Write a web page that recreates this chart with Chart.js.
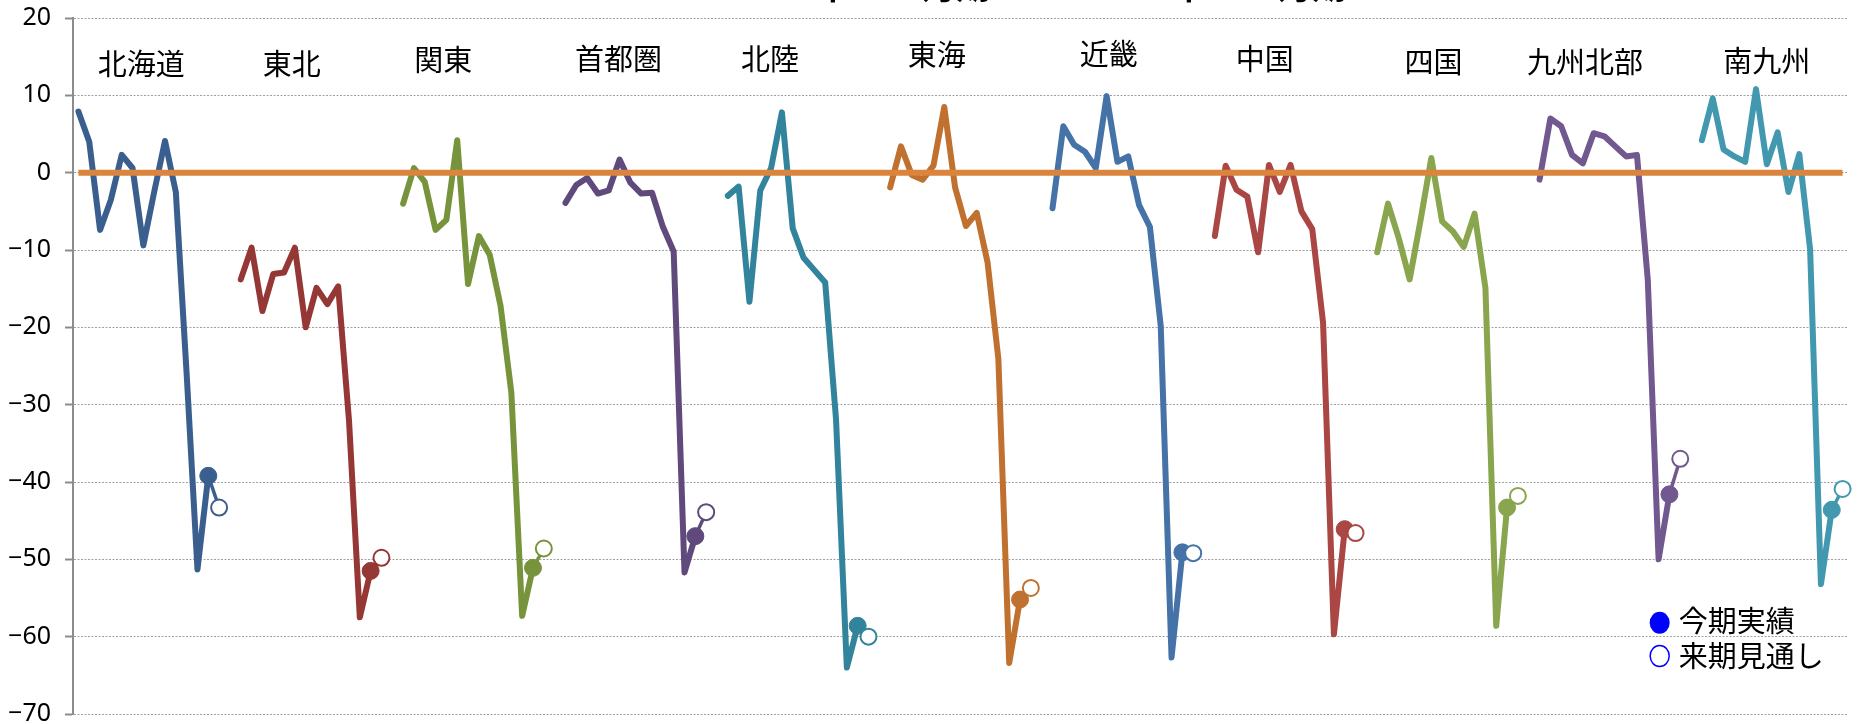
<!DOCTYPE html>
<html lang="ja">
<head>
<meta charset="utf-8">
<title>地域別推移</title>
<script src="https://cdn.jsdelivr.net/npm/chart.js@4.4.1/dist/chart.umd.min.js"></script>
<style>
  html, body { margin: 0; padding: 0; background: #fff; }
  #wrap { width: 1858px; height: 724px; position: relative; }
</style>
</head>
<body>
<div id="wrap"><canvas id="regionChart"></canvas></div>
<script>
// 地域ごとの推移（12期分）
const regionNames = ["北海道", "東北", "関東", "首都圏", "北陸", "東海", "近畿", "中国", "四国", "九州北部", "南九州"];
const hokkaido = [7.9, 4.0, -7.4, -3.5, 2.3, 0.6, -9.4, -2.5, 4.1, -2.5, -26.0, -51.3];
const tohoku   = [-13.8, -9.7, -17.9, -13.1, -12.9, -9.7, -20.0, -14.9, -17.0, -14.7, -32.0, -57.5];
const kanto    = [-4.0, 0.6, -1.2, -7.4, -6.1, 4.2, -14.4, -8.2, -10.6, -17.2, -28.4, -57.3];
const shutoken = [-3.9, -1.6, -0.7, -2.7, -2.3, 1.7, -1.3, -2.7, -2.6, -7.0, -10.2, -51.7];
const hokuriku = [-3.0, -1.8, -16.7, -2.3, 0.6, 7.8, -7.2, -11.0, -12.6, -14.2, -31.9, -64.0];
const tokai    = [-1.9, 3.4, -0.3, -0.9, 0.9, 8.5, -1.9, -6.9, -5.2, -11.6, -24.1, -63.4];
const kinki    = [-4.6, 6.0, 3.6, 2.7, 0.6, 9.9, 1.4, 2.1, -4.2, -7.0, -19.8, -62.7];
const chugoku  = [-8.2, 0.9, -2.2, -3.1, -10.3, 1.0, -2.5, 1.0, -5.0, -7.3, -19.4, -59.7];
const shikoku  = [-10.3, -4.0, -8.5, -13.8, -6.2, 1.9, -6.3, -7.6, -9.6, -5.3, -14.9, -58.6];
const kyushuN  = [-0.9, 7.0, 6.0, 2.3, 1.2, 5.1, 4.7, 3.4, 2.1, 2.3, -13.8, -50.0];
const kyushuS  = [4.2, 9.6, 3.0, 2.1, 1.4, 10.8, 1.1, 5.2, -2.5, 2.4, -9.9, -53.2];
const regionTrends = [hokkaido, tohoku, kanto, shutoken, hokuriku, tokai, kinki, chugoku, shikoku, kyushuN, kyushuS];

// 今期実績・来期見通し
const currentActual = [-39.2, -51.5, -51.1, -47.0, -58.6, -55.2, -49.1, -46.1, -43.3, -41.6, -43.6];
const nextOutlook   = [-43.3, -49.8, -48.6, -43.9, -60.0, -53.7, -49.2, -46.6, -41.8, -37.0, -40.9];

const yTicks = [20, 10, 0, -10, -20, -30, -40, -50, -60, -70];
const legendLabels = ["今期実績", "来期見通し"];
const titleParts = ["2020年4～6月期", "2020年7～9月期"];

const regionColors = ["#3A5F8F", "#953735", "#77933C", "#5F4A7B", "#31849B", "#C0712F",
                      "#4572A7", "#AA4643", "#89A54E", "#71588F", "#4198AF"];

const slotsPerRegion = regionTrends[0].length + 3; // 12期 + 実績 + 見通し + 空き
const totalSlots = regionNames.length * slotsPerRegion - 1;
const labels = Array(totalSlots).fill("");

function buildDatasets() {
    const datasets = [{
        label: "zero",
        data: Array(totalSlots).fill(0),
        borderColor: "#DB843D",
        borderWidth: 6,
        pointRadius: 0,
        borderCapStyle: "butt"
    }];
    regionTrends.forEach((trend, r) => {
        const start = r * slotsPerRegion;
        const actualIdx = start + trend.length;
        const main = Array(totalSlots).fill(null);
        trend.forEach((v, i) => { main[start + i] = v; });
        main[actualIdx] = currentActual[r];
        const outlook = Array(totalSlots).fill(null);
        outlook[actualIdx] = currentActual[r];
        outlook[actualIdx + 1] = nextOutlook[r];

        datasets.push({
            label: regionNames[r] + "見通し",
            data: outlook,
            borderColor: regionColors[r],
            borderWidth: 3.5,
            pointRadius: ctx => ctx.dataIndex === actualIdx + 1 ? 8 : 0,
            pointBackgroundColor: "#fff",
            pointBorderColor: regionColors[r],
            pointBorderWidth: 2,
            clip: false
        });
        datasets.push({
            label: regionNames[r],
            data: main,
            borderColor: regionColors[r],
            borderWidth: 6,
            borderJoinStyle: "round",
            borderCapStyle: "round",
            pointRadius: ctx => ctx.dataIndex === actualIdx ? 8.5 : 0,
            pointBackgroundColor: regionColors[r],
            pointBorderColor: regionColors[r],
            pointBorderWidth: 1,
            clip: false
        });
    });
    return datasets;
}

// 地域名の位置（カテゴリ位置, 値）
const labelSpots = [[5.8, 14.1], [19.7, 14.1], [33.7, 14.6], [49.9, 14.7], [63.9, 14.7], [79.3, 15.2],
                    [95.2, 15.4], [109.6, 14.7], [125.2, 14.3], [139.2, 14.3], [156.0, 14.4]];

const textPlugin = {
    id: "regionText",
    afterDraw(chart) {
        const { ctx, scales: { x, y } } = chart;
        ctx.save();
        ctx.fillStyle = "#000";
        ctx.font = '29px "Noto Sans CJK JP"';
        ctx.textAlign = "center";
        ctx.textBaseline = "middle";
        regionNames.forEach((name, i) => {
            const [slot, val] = labelSpots[i];
            ctx.fillText(name, x.getPixelForValue(slot), y.getPixelForValue(val));
        });

        // 凡例
        const lx = x.getPixelForValue(146.1);
        const ly1 = y.getPixelForValue(-58.2);
        const ly2 = y.getPixelForValue(-62.5);
        ctx.fillStyle = "#0000FF";
        ctx.beginPath();
        ctx.ellipse(lx, ly1, 10, 11, 0, 0, Math.PI * 2);
        ctx.fill();
        ctx.strokeStyle = "#0000FF";
        ctx.lineWidth = 1.5;
        ctx.beginPath();
        ctx.ellipse(lx, ly2, 9.5, 10.5, 0, 0, Math.PI * 2);
        ctx.stroke();
        ctx.fillStyle = "#000";
        ctx.textAlign = "left";
        ctx.fillText(legendLabels[0], lx + 19, ly1 - 2);
        ctx.fillText(legendLabels[1], lx + 19, ly2);

        // 見切れたタイトル
        ctx.font = 'bold 34px "Noto Sans CJK JP"';
        ctx.textBaseline = "alphabetic";
        const nenCenters = [831, 1187];
        titleParts.forEach((t, i) => {
            const pre = t.slice(0, t.indexOf("年"));
            const w1 = ctx.measureText(pre).width;
            const w2 = ctx.measureText("年").width;
            ctx.fillText(t, nenCenters[i] - w1 - w2 / 2, -1);
        });
        ctx.restore();
    }
};

const chart = new Chart(document.getElementById("regionChart").getContext("2d"), {
    type: "line",
    data: { labels: labels, datasets: buildDatasets() },
    options: {
        responsive: true,
        maintainAspectRatio: false,
        animation: false,
        spanGaps: false,
        layout: { padding: { top: 18, bottom: 9.5, left: 0, right: 3 } },
        elements: { line: { tension: 0 } },
        plugins: { legend: { display: false }, tooltip: { enabled: false } },
        scales: {
            x: { type: "category", offset: true, display: false },
            y: {
                min: yTicks[yTicks.length - 1],
                max: yTicks[0],
                afterBuildTicks: scale => { scale.ticks = yTicks.map(v => ({ value: v })); },
                afterFit: scale => { scale.width = 73; scale.paddingTop = 0; scale.paddingBottom = 0; },
                ticks: {
                    color: "#000",
                    padding: 14,
                    font: { size: 25, family: "'Noto Sans', 'Noto Sans CJK JP'" },
                    callback: v => v < 0 ? "\u2212" + Math.abs(v) : String(v)
                },
                grid: {
                    color: "#A0A0A0",
                    lineWidth: 1,
                    tickLength: 8,
                    tickColor: "#8C8C8C",
                    tickWidth: 2,
                    tickBorderDash: []
                },
                border: { display: true, color: "#8C8C8C", width: 2, dash: [2, 1.5] }
            }
        }
    },
    plugins: [textPlugin]
});
</script>
</body>
</html>
